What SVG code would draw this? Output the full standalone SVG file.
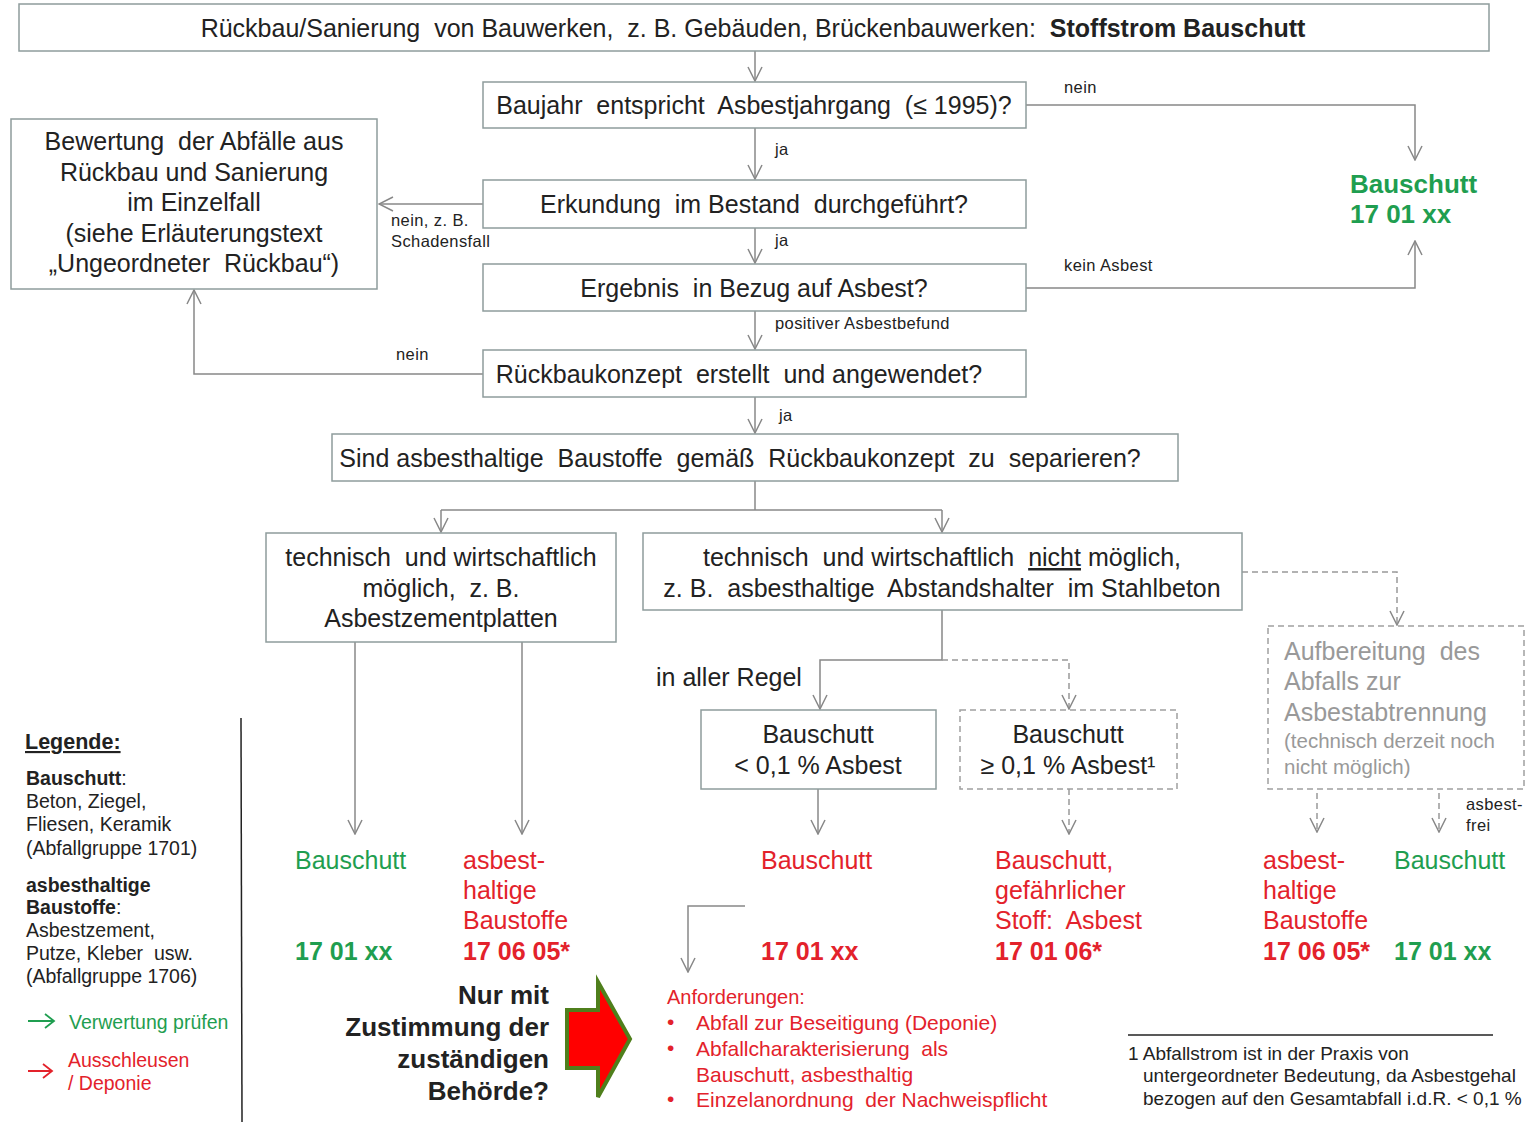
<svg xmlns="http://www.w3.org/2000/svg" width="1526" height="1122" viewBox="0 0 1526 1122" xml:space="preserve">
<defs>
<style>
text{font-family:"Liberation Sans",Arial,sans-serif;fill:#222;white-space:pre;}
.box{fill:#fff;stroke:#8e9c9c;stroke-width:1.5;}
.dbox{fill:#fff;stroke:#a0a0a0;stroke-width:1.5;stroke-dasharray:6 4;}
.c{fill:none;stroke:#888;stroke-width:1.5;}
.cd{fill:none;stroke:#999;stroke-width:1.5;stroke-dasharray:6 4;}
.t24{font-size:25px;}
.lbl{font-size:16.5px;fill:#222;letter-spacing:0.4px;}
.g{fill:#1f9e50;}
.r{fill:#e3222b;}
.b{font-weight:bold;}
.gray{fill:#999;}
.mid{text-anchor:middle;}
.leg{font-size:19.5px;}
.anf{font-size:21px;}
</style>
<marker id="ah" viewBox="0 0 16 16" refX="15" refY="8" markerWidth="16" markerHeight="16" markerUnits="userSpaceOnUse" orient="auto">
<path d="M1,1 L15,8 L1,15" fill="none" stroke="#888" stroke-width="1.5"/>
</marker>
</defs>
<rect width="1526" height="1122" fill="#fff"/>

<g id="connectors">
<path class="c" d="M755,51 V81" marker-end="url(#ah)"/>
<path class="c" d="M1026,105 H1415 V160" marker-end="url(#ah)"/>
<path class="c" d="M755,128 V179" marker-end="url(#ah)"/>
<path class="c" d="M483,204 H379" marker-end="url(#ah)"/>
<path class="c" d="M755,228 V263" marker-end="url(#ah)"/>
<path class="c" d="M1026,288 H1415 V241" marker-end="url(#ah)"/>
<path class="c" d="M755,311 V349" marker-end="url(#ah)"/>
<path class="c" d="M483,374 H194 V290" marker-end="url(#ah)"/>
<path class="c" d="M755,397 V433" marker-end="url(#ah)"/>
<path class="c" d="M755,481 V510"/>
<path class="c" d="M441,510 H942"/>
<path class="c" d="M441,510 V532" marker-end="url(#ah)"/>
<path class="c" d="M942,510 V532" marker-end="url(#ah)"/>
<path class="cd" d="M1242,572 H1397 V625" marker-end="url(#ah)"/>
<path class="c" d="M942,610 V660 H820 V709" marker-end="url(#ah)"/>
<path class="cd" d="M942,660 H1069 V709" marker-end="url(#ah)"/>
<path class="c" d="M355,642 V834" marker-end="url(#ah)"/>
<path class="c" d="M522,642 V834" marker-end="url(#ah)"/>
<path class="c" d="M818,789 V834" marker-end="url(#ah)"/>
<path class="cd" d="M1069,789 V834" marker-end="url(#ah)"/>
<path class="cd" d="M1317,793 V832" marker-end="url(#ah)"/>
<path class="cd" d="M1439,793 V832" marker-end="url(#ah)"/>
<path class="c" d="M745,906 H688 V972" marker-end="url(#ah)"/>
</g>

<g id="labels">
<text class="lbl" x="1064" y="93">nein</text>
<text class="lbl" x="775" y="155">ja</text>
<text class="lbl" x="391" y="226">nein, z. B.</text>
<text class="lbl" x="391" y="247">Schadensfall</text>
<text class="lbl" x="775" y="246">ja</text>
<text class="lbl" x="1064" y="271">kein Asbest</text>
<text class="lbl" x="775" y="329">positiver Asbestbefund</text>
<text class="lbl" x="396" y="360">nein</text>
<text class="lbl" x="779" y="421">ja</text>
<text class="t24" x="656" y="686" font-size="26">in aller Regel</text>
<text class="lbl" x="1466" y="810">asbest-</text>
<text class="lbl" x="1466" y="831">frei</text>
</g>

<g id="n-top">
<rect class="box" x="19" y="4" width="1470" height="47"/>
<text class="t24 mid" x="753" y="37">Rückbau/Sanierung  von Bauwerken,  z. B. Gebäuden, Brückenbauwerken:  <tspan class="b">Stoffstrom Bauschutt</tspan></text>
</g>
<g id="n-baujahr">
<rect class="box" x="483" y="82" width="543" height="46"/>
<text class="t24 mid" x="754" y="114">Baujahr  entspricht  Asbestjahrgang  (≤ 1995)?</text>
</g>
<g id="n-bauschutt-top">
<text class="b g" x="1350" y="193" font-size="26">Bauschutt</text>
<text class="b g" x="1350" y="223" font-size="26">17 01 xx</text>
</g>
<g id="n-erkundung">
<rect class="box" x="483" y="180" width="543" height="48"/>
<text class="t24 mid" x="754" y="213">Erkundung  im Bestand  durchgeführt?</text>
</g>
<g id="n-bewertung">
<rect class="box" x="11" y="119" width="366" height="170"/>
<text class="t24 mid" x="194" y="150">Bewertung  der Abfälle aus</text>
<text class="t24 mid" x="194" y="181">Rückbau und Sanierung</text>
<text class="t24 mid" x="194" y="211">im Einzelfall</text>
<text class="t24 mid" x="194" y="242">(siehe Erläuterungstext</text>
<text class="t24 mid" x="194" y="272">„Ungeordneter  Rückbau“)</text>
</g>
<g id="n-ergebnis">
<rect class="box" x="483" y="264" width="543" height="47"/>
<text class="t24 mid" x="754" y="297">Ergebnis  in Bezug auf Asbest?</text>
</g>
<g id="n-rueckbaukonzept">
<rect class="box" x="483" y="350" width="543" height="47"/>
<text class="t24 mid" x="739" y="383">Rückbaukonzept  erstellt  und angewendet?</text>
</g>
<g id="n-separieren">
<rect class="box" x="332" y="434" width="846" height="47"/>
<text class="t24 mid" x="740" y="467">Sind asbesthaltige  Baustoffe  gemäß  Rückbaukonzept  zu  separieren?</text>
</g>
<g id="n-moeglich">
<rect class="box" x="266" y="533" width="350" height="109"/>
<text class="t24 mid" x="441" y="566">technisch  und wirtschaftlich</text>
<text class="t24 mid" x="441" y="597">möglich,  z. B.</text>
<text class="t24 mid" x="441" y="627">Asbestzementplatten</text>
</g>
<g id="n-nichtmoeglich">
<rect class="box" x="643" y="533" width="599" height="77"/>
<text class="t24 mid" x="942" y="566">technisch  und wirtschaftlich  <tspan text-decoration="underline">nicht</tspan> möglich,</text>
<text class="t24 mid" x="942" y="597">z. B.  asbesthaltige  Abstandshalter  im Stahlbeton</text>
</g>
<g id="n-aufbereitung">
<rect class="dbox" x="1268" y="626" width="256" height="163"/>
<text class="t24 gray" x="1284" y="660">Aufbereitung  des</text>
<text class="t24 gray" x="1284" y="690">Abfalls zur</text>
<text class="t24 gray" x="1284" y="721">Asbestabtrennung</text>
<text class="gray" x="1284" y="748" font-size="20.5">(technisch derzeit noch</text>
<text class="gray" x="1284" y="774" font-size="20.5">nicht möglich)</text>
</g>
<g id="n-bs-lt">
<rect class="box" x="701" y="710" width="235" height="79"/>
<text class="t24 mid" x="818" y="743">Bauschutt</text>
<text class="t24 mid" x="818" y="774">&lt; 0,1 % Asbest</text>
</g>
<g id="n-bs-ge">
<rect class="dbox" x="960" y="710" width="217" height="79"/>
<text class="t24 mid" x="1068" y="743">Bauschutt</text>
<text class="t24 mid" x="1068" y="774">≥ 0,1 % Asbest¹</text>
</g>

<g id="out-1">
<text class="t24 g" x="295" y="869">Bauschutt</text>
<text class="t24 g b" x="295" y="960">17 01 xx</text>
</g>
<g id="out-2">
<text class="t24 r" x="463" y="869">asbest-</text>
<text class="t24 r" x="463" y="899">haltige</text>
<text class="t24 r" x="463" y="929">Baustoffe</text>
<text class="t24 r b" x="463" y="960">17 06 05*</text>
</g>
<g id="out-3">
<text class="t24 r" x="761" y="869">Bauschutt</text>
<text class="t24 r b" x="761" y="960">17 01 xx</text>
</g>
<g id="out-4">
<text class="t24 r" x="995" y="869">Bauschutt,</text>
<text class="t24 r" x="995" y="899">gefährlicher</text>
<text class="t24 r" x="995" y="929">Stoff:  Asbest</text>
<text class="t24 r b" x="995" y="960">17 01 06*</text>
</g>
<g id="out-5">
<text class="t24 r" x="1263" y="869">asbest-</text>
<text class="t24 r" x="1263" y="899">haltige</text>
<text class="t24 r" x="1263" y="929">Baustoffe</text>
<text class="t24 r b" x="1263" y="960">17 06 05*</text>
</g>
<g id="out-6">
<text class="t24 g" x="1394" y="869">Bauschutt</text>
<text class="t24 g b" x="1394" y="960">17 01 xx</text>
</g>

<g id="n-anforderungen">
<text class="r" x="667" y="1004" font-size="20">Anforderungen:</text>
<text class="r anf" x="667" y="1029">•</text>
<text class="r anf" x="696" y="1030">Abfall zur Beseitigung (Deponie)</text>
<text class="r anf" x="667" y="1055">•</text>
<text class="r anf" x="696" y="1056">Abfallcharakterisierung  als</text>
<text class="r anf" x="696" y="1082">Bauschutt, asbesthaltig</text>
<text class="r anf" x="667" y="1106">•</text>
<text class="r anf" x="696" y="1107">Einzelanordnung  der Nachweispflicht</text>
</g>

<g id="n-zustimmung">
<text class="b" x="549" y="1004" font-size="26" text-anchor="end">Nur mit</text>
<text class="b" x="549" y="1036" font-size="26" text-anchor="end">Zustimmung der</text>
<text class="b" x="549" y="1068" font-size="26" text-anchor="end">zuständigen</text>
<text class="b" x="549" y="1100" font-size="26" text-anchor="end">Behörde?</text>
<path d="M567,1010 H598 V982 L630,1039 L598,1097 V1068 H567 Z" fill="#ff0000" stroke="#4f7f1c" stroke-width="4" stroke-linejoin="miter"/>
</g>

<g id="legend">
<line x1="241" y1="718" x2="242" y2="1122" stroke="#222" stroke-width="1.5"/>
<text x="25" y="749" font-size="21.5" class="b" text-decoration="underline">Legende:</text>
<text class="leg" x="26" y="785"><tspan class="b">Bauschutt</tspan>:</text>
<text class="leg" x="26" y="808">Beton, Ziegel,</text>
<text class="leg" x="26" y="831">Fliesen, Keramik</text>
<text class="leg" x="26" y="855">(Abfallgruppe 1701)</text>
<text class="leg b" x="26" y="892">asbesthaltige</text>
<text class="leg" x="26" y="914"><tspan class="b">Baustoffe</tspan>:</text>
<text class="leg" x="26" y="937">Asbestzement,</text>
<text class="leg" x="26" y="960">Putze, Kleber  usw.</text>
<text class="leg" x="26" y="983">(Abfallgruppe 1706)</text>
<path d="M28,1021 H54 M45,1014 L54,1021 L45,1028" fill="none" stroke="#1f9e50" stroke-width="1.8"/>
<text class="g leg" x="69" y="1029">Verwertung prüfen</text>
<path d="M28,1071 H52 M43,1064 L52,1071 L43,1078" fill="none" stroke="#e3222b" stroke-width="1.8"/>
<text class="r leg" x="68" y="1067">Ausschleusen</text>
<text class="r leg" x="68" y="1090">/ Deponie</text>
</g>

<g id="footnote">
<line x1="1128" y1="1035" x2="1493" y2="1035" stroke="#222" stroke-width="1.5"/>
<text x="1128" y="1060" font-size="19">1 Abfallstrom ist in der Praxis von</text>
<text x="1143" y="1082" font-size="19">untergeordneter Bedeutung, da Asbestgehal</text>
<text x="1143" y="1105" font-size="19">bezogen auf den Gesamtabfall i.d.R. &lt; 0,1 %</text>
</g>
</svg>
